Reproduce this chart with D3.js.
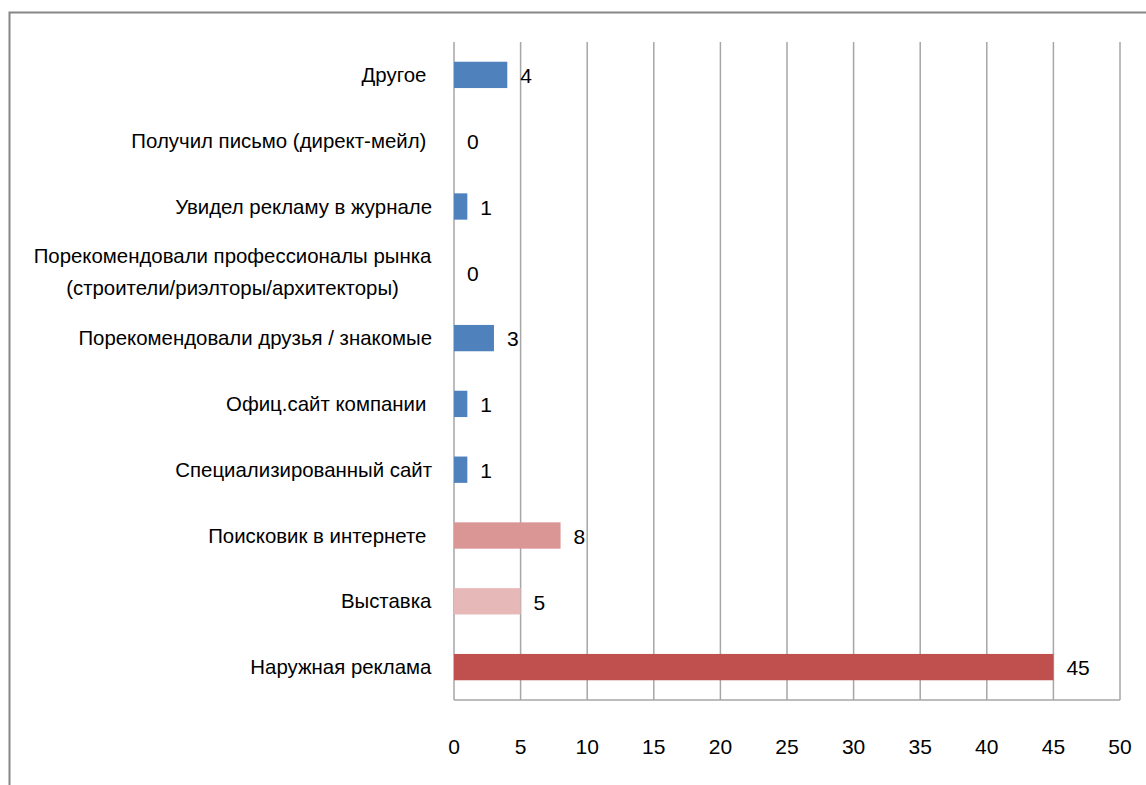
<!DOCTYPE html>
<html><head><meta charset="utf-8">
<script src="https://cdn.jsdelivr.net/npm/d3@7"></script>
<style>
body{margin:0;background:#fff;}
svg text{font-family:"Liberation Sans",Arial,sans-serif;fill:#000;}
</style></head>
<body><svg id="c" width="1146" height="785"></svg>
<script>
const categories = [
  ["Другое "],
  ["Получил письмо (директ-мейл) "],
  ["Увидел рекламу в журнале"],
  ["Порекомендовали профессионалы рынка", "(строители/риэлторы/архитекторы)"],
  ["Порекомендовали друзья / знакомые"],
  ["Офиц.сайт компании "],
  ["Специализированный сайт"],
  ["Поисковик в интернете "],
  ["Выставка"],
  ["Наружная реклама"]
];
const values = [4, 0, 1, 0, 3, 1, 1, 8, 5, 45];
const barColors = ["#4F81BD","#4F81BD","#4F81BD","#4F81BD","#4F81BD","#4F81BD","#4F81BD","#D99694","#E6B9B8","#C0504D"];
const xTicks = [0,5,10,15,20,25,30,35,40,45,50];

const svg = d3.select("#c");
svg.append("rect").attr("x",9.5).attr("y",12.5).attr("width",1150).attr("height",800)
  .attr("fill","none").attr("stroke","#868686").attr("stroke-width",2);

const L=454, R=1120, T=42, B=700;
const x = d3.scaleLinear().domain([0,50]).range([L,R]);
const y = d3.scaleBand().domain(d3.range(categories.length)).range([T,B]).paddingInner(0.6).paddingOuter(0.3);

svg.append("g").selectAll("line").data(xTicks).join("line")
  .attr("x1",d=>x(d)).attr("x2",d=>x(d)).attr("y1",T).attr("y2",B)
  .attr("stroke","#A6A6A6").attr("stroke-width",1.5);
svg.append("line").attr("x1",L).attr("x2",R).attr("y1",B).attr("y2",B).attr("stroke","#A6A6A6").attr("stroke-width",1.5);

svg.append("g").selectAll("rect").data(values).join("rect")
  .attr("x",x(0)).attr("y",(d,i)=>y(i)).attr("width",d=>x(d)-x(0)).attr("height",y.bandwidth())
  .attr("fill",(d,i)=>barColors[i]);

svg.append("g").selectAll("text").data(values).join("text")
  .attr("x",d=>x(d)+13).attr("y",(d,i)=>y(i)+y.bandwidth()/2+1).attr("dy","0.35em")
  .attr("font-size",21).text(d=>d);

const cl = svg.append("g").selectAll("text").data(categories).join("text")
  .attr("text-anchor","middle").attr("font-size",20.4).style("white-space","pre")
  .attr("transform",(d,i)=>`translate(0,${y(i)+y.bandwidth()/2})`);
cl.each(function(lines,i){
  const t=d3.select(this);
  const n=lines.length;
  lines.forEach((s,j)=>{
    t.append("tspan").attr("x",0).attr("y",(j-(n-1)/2)*32).attr("dy","0.35em").text(s);
  });
});
cl.each(function(){
  const bb=this.getBBox();
  const cur=d3.select(this).attr("transform");
  const ty=+cur.match(/,([^)]+)\)/)[1];
  d3.select(this).attr("transform",`translate(${432-(bb.x+bb.width)},${ty})`);
});

svg.append("g").selectAll("text").data(xTicks).join("text")
  .attr("x",d=>x(d)).attr("y",747).attr("dy","0.35em").attr("text-anchor","middle")
  .attr("font-size",21).text(d=>d);
</script></body></html>
